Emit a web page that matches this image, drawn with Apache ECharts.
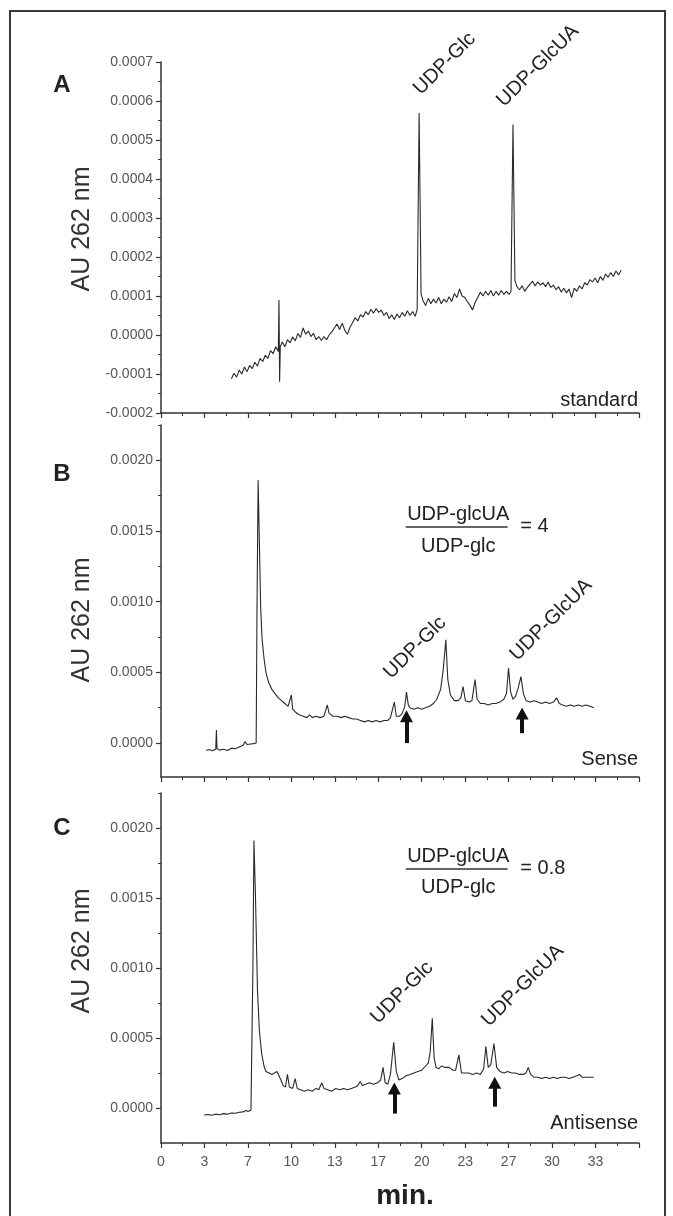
<!DOCTYPE html>
<html>
<head>
<meta charset="utf-8">
<script src="https://cdn.jsdelivr.net/npm/echarts@6/dist/echarts.min.js"></script>
<style>
html,body{margin:0;padding:0;background:#fff;}
#chart{width:673px;height:1216px;}
</style>
</head>
<body>
<div id="chart"></div>
<script>
// ---------- DATA (minutes, AU 262 nm) ----------
const panelLabels = ['A', 'B', 'C'];
const conditionLabels = ['standard', 'Sense', 'Antisense'];
const yAxisTitle = 'AU 262 nm';
const xAxisTitle = 'min.';
const yTicksA = [-0.0002, 0.0007, 0.0001];          // min, max, step
const yTicksBC = [0, 0.0005, 0.0010, 0.0015, 0.0020];
const yMinorBC = [0.00025, 0.00075, 0.00125, 0.00175, 0.00225];

const traceA = [
[5.4,-0.000112],[5.6,-0.000098],[5.8,-0.000108],[6.0,-0.000090],[6.2,-0.000100],[6.4,-0.000082],
[6.6,-0.000094],[6.8,-0.000078],[7.0,-0.000086],[7.2,-0.000070],[7.4,-0.000080],[7.6,-0.000060],
[7.8,-0.000068],[8.0,-0.000052],[8.2,-0.000060],[8.4,-0.000040],[8.6,-0.000048],[8.8,-0.000030],
[9.0,-0.000042],[9.05,0.000090],[9.1,-0.000120],[9.15,-0.000030],[9.3,-0.000018],[9.5,-0.000030],
[9.7,-0.000012],[9.9,-0.000020],[10.1,-0.000005],[10.3,-0.000015],[10.5,0.000004],[10.7,-0.000006],
[10.9,0.000018],[11.1,0.000002],[11.3,0.000010],[11.5,-0.000004],[11.7,0.000004],[11.9,-0.000012],
[12.1,-0.000004],[12.3,-0.000014],[12.5,-0.000004],[12.7,-0.000012],[12.9,0.000000],[13.1,0.000008],
[13.3,0.000018],[13.5,0.000028],[13.7,0.000014],[13.9,0.000030],[14.1,0.000012],[14.3,0.000002],
[14.5,0.000020],[14.7,0.000032],[14.9,0.000044],[15.1,0.000036],[15.3,0.000052],[15.5,0.000046],
[15.7,0.000060],[15.9,0.000052],[16.1,0.000066],[16.3,0.000056],[16.5,0.000068],[16.7,0.000058],
[16.9,0.000064],[17.1,0.000050],[17.3,0.000058],[17.5,0.000042],[17.7,0.000052],[17.9,0.000040],
[18.1,0.000054],[18.3,0.000044],[18.5,0.000058],[18.7,0.000048],[18.9,0.000062],[19.1,0.000050],
[19.3,0.000060],[19.5,0.000048],[19.65,0.000066],[19.8,0.000569],[19.95,0.000105],[20.1,0.000088],
[20.3,0.000076],[20.5,0.000094],[20.7,0.000080],[20.9,0.000092],[21.1,0.000082],[21.3,0.000096],
[21.5,0.000080],[21.7,0.000092],[21.9,0.000084],[22.1,0.000098],[22.3,0.000086],[22.5,0.000106],
[22.7,0.000096],[22.9,0.000118],[23.1,0.000100],[23.3,0.000096],[23.5,0.000086],[23.7,0.000076],
[23.9,0.000064],[24.1,0.000084],[24.3,0.000096],[24.5,0.000110],[24.7,0.000100],[24.9,0.000112],
[25.1,0.000102],[25.3,0.000114],[25.5,0.000100],[25.7,0.000112],[25.9,0.000102],[26.1,0.000114],
[26.3,0.000104],[26.5,0.000112],[26.7,0.000104],[26.85,0.000112],[27.0,0.000540],[27.15,0.000140],
[27.3,0.000124],[27.5,0.000116],[27.7,0.000126],[27.9,0.000112],[28.1,0.000122],[28.3,0.000130],
[28.5,0.000138],[28.7,0.000126],[28.9,0.000136],[29.1,0.000128],[29.3,0.000134],[29.5,0.000124],
[29.7,0.000136],[29.9,0.000122],[30.1,0.000128],[30.3,0.000116],[30.5,0.000124],[30.7,0.000110],
[30.9,0.000120],[31.1,0.000108],[31.3,0.000118],[31.5,0.000096],[31.7,0.000120],[31.9,0.000112],
[32.1,0.000126],[32.3,0.000118],[32.5,0.000134],[32.7,0.000128],[32.9,0.000142],[33.1,0.000136],
[33.3,0.000146],[33.5,0.000134],[33.7,0.000150],[33.9,0.000140],[34.1,0.000156],[34.3,0.000148],
[34.5,0.000160],[34.7,0.000150],[34.9,0.000164],[35.1,0.000154],[35.3,0.000166]
];

const traceB = [
[3.45,-0.000052],[3.7,-0.000046],[3.95,-0.000054],[4.2,-0.000044],[4.25,0.000092],[4.3,-0.000040],
[4.5,-0.000050],[4.8,-0.000044],[5.1,-0.000052],[5.4,-0.000036],[5.7,-0.000040],[6.0,-0.000028],
[6.3,-0.000016],[6.45,0.000010],[6.6,-0.000010],[6.9,-0.000006],[7.1,-0.000004],[7.3,0.000000],
[7.36,0.00090],[7.45,0.00186],[7.55,0.00140],[7.65,0.00095],[7.75,0.00074],[7.9,0.00060],
[8.05,0.00050],[8.25,0.00043],[8.5,0.00038],[8.75,0.00035],[9.0,0.00032],[9.25,0.00030],
[9.5,0.00028],[9.75,0.00026],[9.9,0.00025],[10.0,0.00034],[10.1,0.00024],[10.3,0.00022],
[10.6,0.00020],[10.9,0.00019],[11.2,0.00018],[11.4,0.00020],[11.6,0.00018],[11.9,0.00019],
[12.2,0.00018],[12.5,0.00019],[12.75,0.00027],[12.9,0.00021],[13.2,0.00019],[13.5,0.00019],
[13.8,0.00018],[14.1,0.00019],[14.4,0.00018],[14.7,0.00017],[15.0,0.00017],[15.3,0.00016],
[15.6,0.00015],[15.9,0.00016],[16.2,0.00015],[16.5,0.00016],[16.8,0.00015],[17.1,0.00016],
[17.4,0.00016],[17.6,0.00018],[17.9,0.00029],[18.05,0.00019],[18.3,0.00019],[18.5,0.00021],
[18.7,0.00026],[18.83,0.00036],[18.97,0.00027],[19.1,0.00025],[19.4,0.00024],[19.7,0.00025],
[20.0,0.00024],[20.3,0.00025],[20.6,0.00026],[20.9,0.00028],[21.15,0.00031],[21.45,0.00038],
[21.65,0.00052],[21.85,0.00073],[22.0,0.00045],[22.2,0.00034],[22.5,0.00030],[22.8,0.00030],
[23.0,0.00032],[23.17,0.00040],[23.35,0.00030],[23.6,0.00029],[23.85,0.00030],[24.09,0.00045],
[24.25,0.00031],[24.5,0.00028],[24.8,0.00028],[25.1,0.00027],[25.4,0.00028],[25.7,0.00028],
[26.0,0.00029],[26.3,0.00031],[26.5,0.00035],[26.66,0.00053],[26.82,0.00036],[27.0,0.00031],
[27.2,0.00033],[27.4,0.00039],[27.61,0.00047],[27.8,0.00035],[28.0,0.00030],[28.3,0.00029],
[28.6,0.00030],[28.9,0.00029],[29.2,0.00028],[29.5,0.00029],[29.8,0.00028],[30.1,0.00029],
[30.34,0.00032],[30.55,0.00028],[30.8,0.00027],[31.1,0.00026],[31.4,0.00027],[31.7,0.00026],
[32.0,0.00027],[32.3,0.00026],[32.6,0.00027],[32.9,0.00026],[33.2,0.00025]
];

const traceC = [
[3.3,-0.000050],[3.6,-0.000046],[3.9,-0.000052],[4.2,-0.000044],[4.5,-0.000048],[4.8,-0.000040],
[5.1,-0.000044],[5.4,-0.000036],[5.7,-0.000038],[6.0,-0.000030],[6.3,-0.000028],[6.5,-0.000018],
[6.7,-0.000024],[6.9,-0.000016],[7.0,-0.000020],[7.05,0.0010],[7.13,0.00191],[7.25,0.00150],
[7.4,0.00084],[7.55,0.00055],[7.72,0.00039],[7.9,0.00030],[8.05,0.00026],[8.3,0.00025],
[8.5,0.00024],[8.71,0.00025],[8.9,0.00026],[9.04,0.00025],[9.2,0.00020],[9.37,0.00016],
[9.55,0.00015],[9.7,0.00024],[9.85,0.00015],[10.1,0.00014],[10.29,0.00021],[10.45,0.00014],
[10.7,0.00013],[11.0,0.00012],[11.3,0.00013],[11.6,0.00012],[11.9,0.00014],[12.1,0.00013],
[12.33,0.00018],[12.5,0.00014],[12.8,0.00013],[13.1,0.00012],[13.4,0.00014],[13.7,0.00013],
[14.0,0.00014],[14.3,0.00013],[14.6,0.00014],[14.9,0.00015],[15.1,0.00016],[15.28,0.00019],
[15.45,0.00016],[15.7,0.00017],[16.0,0.00018],[16.3,0.00017],[16.6,0.00018],[16.85,0.00020],
[17.03,0.00029],[17.2,0.00018],[17.4,0.00017],[17.6,0.00024],[17.85,0.00047],[18.05,0.00026],
[18.25,0.00020],[18.5,0.00021],[18.8,0.00023],[19.1,0.00024],[19.4,0.00025],[19.7,0.00026],
[20.0,0.00027],[20.3,0.00030],[20.5,0.00032],[20.65,0.00040],[20.81,0.00064],[20.95,0.00036],
[21.1,0.00029],[21.3,0.00028],[21.5,0.00030],[21.8,0.00029],[22.1,0.00029],[22.4,0.00027],
[22.6,0.00027],[22.85,0.00038],[23.05,0.00025],[23.3,0.00025],[23.6,0.00025],[23.9,0.00024],
[24.2,0.00025],[24.5,0.00024],[24.75,0.00028],[24.92,0.00044],[25.1,0.00029],[25.3,0.00031],
[25.54,0.00046],[25.75,0.00029],[26.0,0.00026],[26.3,0.00025],[26.6,0.00026],[26.9,0.00025],
[27.2,0.00025],[27.5,0.00024],[27.8,0.00024],[28.0,0.00025],[28.17,0.00029],[28.35,0.00024],
[28.6,0.00022],[28.9,0.00022],[29.2,0.00021],[29.5,0.00022],[29.8,0.00021],[30.1,0.00022],
[30.4,0.00021],[30.7,0.00022],[31.0,0.00022],[31.3,0.00021],[31.6,0.00022],[31.9,0.00023],
[32.1,0.00024],[32.3,0.00022],[32.6,0.00022],[32.9,0.00022],[33.2,0.00022]
];

// peak annotations: [label, minutes, AU at text start]
const peakLabelsA = [['UDP-Glc', 20.2, 0.000605], ['UDP-GlcUA', 26.6, 0.000574]];
const peakLabelsB = [['UDP-Glc', 17.93, 0.000424], ['UDP-GlcUA', 27.6, 0.000551]];
const peakLabelsC = [['UDP-Glc', 16.93, 0.000571], ['UDP-GlcUA', 25.44, 0.000550]];
// arrows: [minutes, tail AU, head AU]
const arrowsB = [[18.83, 0.0000, 0.00019], [27.7, 0.00007, 0.00021]];
const arrowsC = [[17.9, -0.00004, 0.00014], [25.6, 0.00001, 0.00018]];
// ratio annotation: [numerator, denominator, value text]
const ratioB = ['UDP-glcUA', 'UDP-glc', '= 4'];
const ratioC = ['UDP-glcUA', 'UDP-glc', '= 0.8'];
const ratioPosB = [22.84, 0.001611, 0.001527, 0.001385, 18.77, 26.59, 27.6]; // x, numY, barY, denY, barX0, barX1, eqX
const ratioPosC = [22.84, 0.001793, 0.001707, 0.001571, 18.77, 26.59, 27.6];

// ---------- CHART ----------
const FONT = '"Liberation Sans", Arial, Helvetica, sans-serif';
const AX = '#333';
const xMax = 110 / 3, xStep = 10 / 3;
const gridLeft = 161, gridWidth = 478;
const grids = [
  {left: gridLeft, width: gridWidth, top: 62, height: 351},
  {left: gridLeft, width: gridWidth, top: 425, height: 352},
  {left: gridLeft, width: gridWidth, top: 793, height: 350}
];

function xAxis(i) {
  return {
    type: 'value', gridIndex: i, min: 0, max: xMax, interval: xStep, position: 'bottom',
    axisLine: {onZero: false, lineStyle: {color: AX, width: 1.5}},
    axisTick: {length: 5, lineStyle: {color: AX, width: 1.2}},
    minorTick: {show: true, splitNumber: 2, length: 3, lineStyle: {color: AX, width: 1}},
    splitLine: {show: false}, minorSplitLine: {show: false},
    axisLabel: {show: i === 2, color: '#555', fontSize: 14, fontFamily: FONT, margin: 12,
      formatter: v => (v > 35 ? '' : String(Math.round(v)))}
  };
}
function fmtY(v) { return Math.abs(v) < 1e-9 ? '0.0000' : v.toFixed(4); }

const yAxes = [
  {type: 'value', gridIndex: 0, position: 'left', min: yTicksA[0], max: yTicksA[1], interval: yTicksA[2],
   axisLine: {show: true, onZero: false, lineStyle: {color: AX, width: 1.5}},
   axisTick: {show: true, length: 5, lineStyle: {color: AX, width: 1.2}},
   minorTick: {show: true, splitNumber: 2, length: 3, lineStyle: {color: AX, width: 1}},
   splitLine: {show: false},
   axisLabel: {color: '#555', fontSize: 14, fontFamily: FONT, margin: 8, formatter: fmtY}}
];
const bcRanges = [[-0.00024, 0.00225], [-0.00025, 0.00225]];
bcRanges.forEach((r, k) => {
  yAxes.push({type: 'value', gridIndex: k + 1, position: 'left', offset: 0, min: r[0], max: r[1],
    axisLine: {show: true, onZero: false, lineStyle: {color: AX, width: 1.5}},
    axisTick: {show: true, length: 5, customValues: yTicksBC, lineStyle: {color: AX, width: 1.2}},
    splitLine: {show: false},
    axisLabel: {color: '#555', fontSize: 14, fontFamily: FONT, margin: 8, customValues: yTicksBC, formatter: fmtY}});
  yAxes.push({type: 'value', gridIndex: k + 1, position: 'left', offset: 0, min: r[0], max: r[1],
    axisLine: {show: false, onZero: false},
    axisTick: {show: true, length: 3, customValues: yMinorBC, lineStyle: {color: AX, width: 1}},
    splitLine: {show: false}, axisLabel: {show: false}});
});

function peakMarks(list) {
  return list.map(p => ({
    coord: [p[1], p[2]], symbol: 'circle', symbolSize: 1, itemStyle: {color: 'rgba(0,0,0,0)'},
    label: {show: true, formatter: p[0], position: [0, 0], rotate: 45, align: 'left', verticalAlign: 'bottom',
      color: '#222', fontSize: 20, fontFamily: FONT}
  }));
}
function ratioMarks(r, pos) {
  const base = {symbol: 'circle', symbolSize: 1, itemStyle: {color: 'rgba(0,0,0,0)'}};
  const lab = (t, al) => ({show: true, formatter: t, position: [0, 0], align: al, verticalAlign: 'middle',
    color: '#222', fontSize: 20, fontFamily: FONT});
  return [
    Object.assign({coord: [pos[0], pos[1]], label: lab(r[0], 'center')}, base),
    Object.assign({coord: [pos[0], pos[3]], label: lab(r[1], 'center')}, base),
    Object.assign({coord: [pos[6], pos[2]], label: lab(r[2], 'left')}, base)
  ];
}
function arrowLines(list) {
  return list.map(a => [{coord: [a[0], a[1]], symbol: 'none'},
                        {coord: [a[0], a[2]], symbol: 'triangle', symbolSize: [13, 12]}]);
}

const lineStyle = {color: '#2a2a2a', width: 1.1};
const series = [
  {type: 'line', xAxisIndex: 0, yAxisIndex: 0, data: traceA, showSymbol: false, lineStyle, silent: true,
   markPoint: {silent: true, animation: false, data: peakMarks(peakLabelsA)}},
  {type: 'line', xAxisIndex: 1, yAxisIndex: 1, data: traceB, showSymbol: false, lineStyle, silent: true,
   markPoint: {silent: true, animation: false, data: peakMarks(peakLabelsB).concat(ratioMarks(ratioB, ratioPosB))},
   markLine: {silent: true, animation: false, label: {show: false},
     data: arrowLines(arrowsB).concat([[{coord: [ratioPosB[4], ratioPosB[2]], symbol: 'none', lineStyle: {width: 1.5, color: '#333'}},
                                        {coord: [ratioPosB[5], ratioPosB[2]], symbol: 'none'}]]),
     lineStyle: {color: '#111', width: 4, type: 'solid'}}},
  {type: 'line', xAxisIndex: 2, yAxisIndex: 3, data: traceC, showSymbol: false, lineStyle, silent: true,
   markPoint: {silent: true, animation: false, data: peakMarks(peakLabelsC).concat(ratioMarks(ratioC, ratioPosC))},
   markLine: {silent: true, animation: false, label: {show: false},
     data: arrowLines(arrowsC).concat([[{coord: [ratioPosC[4], ratioPosC[2]], symbol: 'none', lineStyle: {width: 1.5, color: '#333'}},
                                        {coord: [ratioPosC[5], ratioPosC[2]], symbol: 'none'}]]),
     lineStyle: {color: '#111', width: 4, type: 'solid'}}}
];

const graphics = [
  {type: 'rect', shape: {x: 10, y: 11, width: 655, height: 1220}, style: {fill: 'none', stroke: '#3a3a3a', lineWidth: 2}, silent: true}
];
const panelY = [85, 474, 828];
const titleY = [229, 620, 951];
const condY = [400, 759, 1123];
for (let i = 0; i < 3; i++) {
  graphics.push({type: 'text', x: 62, y: panelY[i], style: {text: panelLabels[i], font: 'bold 24px ' + FONT, fill: '#222', textAlign: 'center', textVerticalAlign: 'middle'}});
  graphics.push({type: 'text', x: 82, y: titleY[i], rotation: Math.PI / 2, style: {text: yAxisTitle, font: '25px ' + FONT, fill: '#333', textAlign: 'center', textVerticalAlign: 'middle'}});
  graphics.push({type: 'text', x: 638, y: condY[i], style: {text: conditionLabels[i], font: '20px ' + FONT, fill: '#222', textAlign: 'right', textVerticalAlign: 'middle'}});
}
graphics.push({type: 'text', x: 405, y: 1196, style: {text: xAxisTitle, font: 'bold 28px ' + FONT, fill: '#222', textAlign: 'center', textVerticalAlign: 'middle'}});

const chart = echarts.init(document.getElementById('chart'), null, {renderer: 'canvas'});
chart.setOption({
  animation: false,
  backgroundColor: '#fff',
  grid: grids,
  xAxis: [xAxis(0), xAxis(1), xAxis(2)],
  yAxis: yAxes,
  series: series,
  graphic: graphics
});
</script>
</body>
</html>
